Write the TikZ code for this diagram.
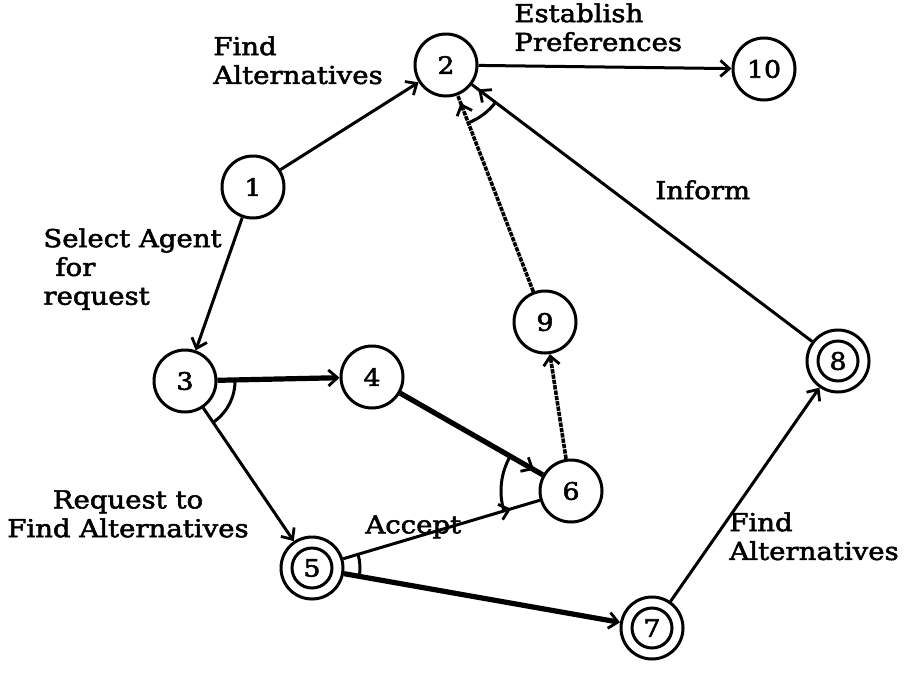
\documentclass[tikz,border=0pt]{standalone}
\usepackage{fontspec}
\setmainfont{DejaVu Serif}[FakeStretch=1.12, FakeBold=2.2]
\usetikzlibrary{arrows.meta,calc,decorations.markings}

% AND arc: centred on node #1, running from the line towards #2 to the line towards #3
\newcommand\andarc[4]{%
  \draw[arcline] let \p1=($(#2)-(#1)$), \p2=($(#3)-(#1)$),
    \n1={atan2(\y1,\x1)}, \n3={atan2(\y2,\x2)},
    \n2={\n1+mod(\n3-\n1+540,360)-180} in
    ($(#1)+(\n1:#4)$) arc[start angle=\n1, end angle=\n2, radius=#4];}

\tikzset{
  x=0.5pt, y=-0.5pt,
  barb/.tip={Straight Barb[length=4.5pt,width=8pt,line width=1.4pt]},
  stateA/.style={circle, draw, line width=1.5pt, minimum size=31pt, inner sep=0pt,
    font=\fontsize{12}{14}\selectfont},
  finalA/.style={stateA, path picture={\draw[line width=1.5pt]
    (path picture bounding box.center) circle[radius=10pt];}},
  lnk/.style={line width=1.5pt, -{barb}},
  plain/.style={line width=1.5pt},
  heavy/.style={line width=2.6pt},
  grainy/.style={line width=1.8pt, dash pattern=on 2.2pt off 0.5pt},
  midtip/.style={postaction={decorate}, decoration={markings,
    mark=at position #1 with {\arrow{barb}}}},
  arcline/.style={line width=1.5pt},
  lbl/.style={inner sep=0pt, align=left, anchor=north west,
    font=\fontsize{12.3}{14.4}\selectfont},
}

\begin{document}
\begin{tikzpicture}
\useasboundingbox (0,0) rectangle (909,675);

% states
\node[stateA] (n1)  at (253,187) {1};
\node[stateA] (n2)  at (446,65)  {2};
\node[stateA] (n10) at (764,69)  {10};
\node[stateA] (n3)  at (185,381) {3};
\node[stateA] (n4)  at (372,377) {4};
\node[stateA] (n9)  at (545,322) {9};
\node[stateA] (n6)  at (571,491) {6};
\node[finalA] (n8)  at (838,361) {8};
\node[finalA] (n5)  at (312,568) {5};
\node[finalA] (n7)  at (652,628) {7};

% transitions
\draw[lnk] (n1) -- (n2);
\draw[lnk] (n2) -- (n10);
\draw[lnk] (n1) -- (n3);
\draw[heavy, -{barb}] (n3) -- (n4);
\draw[lnk] (n3) -- (n5);
\draw[heavy, midtip=-5pt] (n4) -- (n6);
\draw[plain, midtip=-15pt] (n5) -- (n6);
\draw[heavy, -{barb}] (n5) -- (n7);
\draw[lnk] (n7) -- (n8);
\draw[grainy, -{barb}] (n6) -- (n9);
\draw[grainy, midtip=-4pt] (n9) -- (n2);
\draw[plain, midtip=-4pt] (n8) -- (n2);

% AND arcs
\andarc{n3}{n4}{n5}{25pt}
\andarc{n6}{n4}{n5}{35pt}
\andarc{n2}{n9}{n8}{31pt}
\andarc{n5}{n6}{n7}{24pt}

% transition labels
\node[lbl] (tFind1) at (213,36) {Find\\Alternatives};
\node[lbl] (tPref)  at (514,3)  {Establish\\Preferences};
\node[lbl] (tInf)   at (655,180) {Inform};
\node[lbl] (tSel)   at (43,228) {Select Agent\\\hspace*{6pt}for\\request};
\node[lbl, align=center, anchor=north] (tReq) at (128,490) {Request to\\Find Alternatives};
\node[lbl] (tAcc)   at (365,515) {Accept};
\node[lbl] (tFind2) at (729,512) {Find\\Alternatives};
\end{tikzpicture}
\end{document}
